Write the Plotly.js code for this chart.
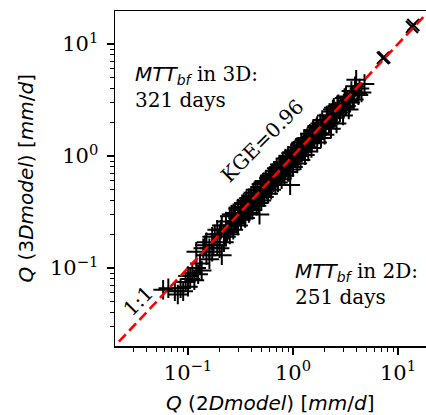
<!DOCTYPE html>
<html>
<head>
<meta charset="utf-8">
<script src="https://cdn.plot.ly/plotly-3.0.1.min.js"></script>
<style>html,body{margin:0;padding:0;background:#fff;}#chart{width:426px;height:415px;}</style>
</head>
<body>
<div id="chart"></div>
<script>
// Daily discharge, 2D model (x) vs 3D model (y), mm/d
var q2D = [
  0.058, 0.065, 0.075, 0.08, 0.085, 0.09, 0.095, 0.1, 0.105, 0.11, 0.1, 0.12, 0.115, 0.125, 0.13, 0.135,
  0.14, 0.15, 0.15, 0.16, 0.17, 0.17, 0.18, 0.19, 0.2, 0.2, 0.21, 0.22, 0.22, 0.23, 0.24, 0.25, 0.25, 0.26,
  0.27, 0.28, 0.29, 0.3, 0.3, 0.31, 0.32, 0.33, 0.34, 0.35, 0.36, 0.37, 0.38, 0.4, 0.4, 0.41, 0.42, 0.44,
  0.45, 0.46, 0.48, 0.5, 0.5, 0.52, 0.53, 0.55, 0.56, 0.58, 0.6, 0.6, 0.62, 0.64, 0.66, 0.68, 0.7, 0.7,
  0.72, 0.74, 0.76, 0.78, 0.8, 0.8, 0.83, 0.85, 0.88, 0.9, 0.9, 0.93, 0.95, 0.98, 1.0, 1.0, 1.03, 1.06,
  1.1, 1.1, 1.14, 1.18, 1.2, 1.25, 1.3, 1.3, 1.35, 1.4, 1.45, 1.5, 1.5, 1.55, 1.6, 1.7, 1.7, 1.8, 1.85,
  1.9, 2.0, 2.0, 2.1, 2.2, 2.3, 2.4, 2.5, 2.6, 2.7, 2.8, 3.0, 3.1, 3.2, 3.4, 3.6, 3.8, 4.0, 4.2, 4.5, 4.8,
  0.19, 0.23, 0.27, 0.32, 0.35, 0.38, 0.43, 0.47, 0.52, 0.57, 0.63, 0.67, 0.73, 0.79, 0.86, 0.92, 1.0,
  1.08, 1.15, 1.22, 1.33, 1.42, 1.55, 1.65, 1.75, 1.95, 2.15, 2.35, 2.55, 2.9, 3.3, 3.7, 4.3,
  0.48, 0.94, 0.21, 0.12, 0.16,
  0.26, 0.29, 0.34, 0.39, 0.44, 0.51, 0.59, 0.65, 0.75, 0.82, 0.96, 1.12, 1.28, 1.48, 1.68, 2.05, 2.45, 3.5, 3.9,
  0.145, 0.175, 0.205, 0.235,
  0.3, 0.36, 0.42, 0.49, 0.55, 0.62, 0.69, 0.77, 0.87, 1.02, 1.17, 1.37, 1.58, 1.82, 2.25, 2.65, 3.05, 3.45, 4.1,
  0.28, 0.33, 0.4, 0.46, 0.54, 0.61, 0.71, 0.81, 0.91, 1.04, 1.24, 1.44, 1.62, 2.0, 2.4, 2.75, 3.2
];
var q3D = [
  0.064, 0.066, 0.062, 0.058, 0.066, 0.062, 0.075, 0.068, 0.08, 0.09, 0.085, 0.1, 0.078, 0.088, 0.11, 0.095,
  0.15, 0.13, 0.17, 0.15, 0.14, 0.19, 0.2, 0.16, 0.2, 0.15, 0.24, 0.2, 0.17, 0.26, 0.22, 0.2, 0.29, 0.24,
  0.22, 0.31, 0.26, 0.24, 0.34, 0.29, 0.27, 0.37, 0.3, 0.28, 0.4, 0.34, 0.31, 0.44, 0.36, 0.33, 0.47, 0.4,
  0.36, 0.5, 0.44, 0.4, 0.56, 0.47, 0.43, 0.6, 0.5, 0.46, 0.66, 0.55, 0.5, 0.7, 0.6, 0.55, 0.78, 0.64,
  0.58, 0.8, 0.68, 0.62, 0.88, 0.72, 0.67, 0.95, 0.8, 0.72, 1.0, 0.85, 0.76, 1.08, 0.9, 0.8, 1.12, 0.95,
  0.86, 1.2, 1.02, 0.92, 1.32, 1.12, 1.02, 1.42, 1.2, 1.1, 1.58, 1.35, 1.18, 1.7, 1.42, 1.32, 1.85, 1.6, 1.45,
  2.1, 1.78, 1.55, 2.3, 1.95, 1.75, 2.6, 2.2, 1.95, 2.9, 2.45, 2.3, 3.3, 2.8, 2.6, 3.8, 3.2, 4.8, 3.5, 3.7, 4.4,
  0.22, 0.19, 0.3, 0.35, 0.33, 0.42, 0.43, 0.38, 0.58, 0.57, 0.6, 0.74, 0.7, 0.77, 0.86, 0.92, 1.0,
  1.05, 1.15, 1.2, 1.3, 1.4, 1.5, 1.6, 1.75, 1.9, 2.1, 2.3, 2.5, 2.8, 3.1, 3.5, 4.0,
  0.3, 0.55, 0.13, 0.14, 0.12,
  0.3, 0.25, 0.38, 0.34, 0.5, 0.45, 0.64, 0.58, 0.84, 0.76, 1.06, 1.0, 1.38, 1.3, 1.8, 1.85, 2.7, 3.0, 4.2,
  0.16, 0.16, 0.22, 0.21,
  0.28, 0.39, 0.39, 0.53, 0.52, 0.67, 0.66, 0.82, 0.83, 1.1, 1.1, 1.45, 1.5, 1.95, 2.0, 2.8, 2.7, 3.2, 3.6,
  0.26, 0.31, 0.41, 0.43, 0.51, 0.63, 0.66, 0.8, 0.95, 0.98, 1.25, 1.36, 1.66, 1.9, 2.5, 2.6, 3.4
];
// High-flow days
var q2DHigh = [7.2, 7.4, 13.6, 14.0];
var q3DHigh = [7.5, 7.6, 14.2, 14.8];
// 1:1 reference line
var oneToOne = [0.022, 30];

var xTickVals = [0.1, 1, 10];
var xTickText = ['10<sup>\u22121</sup>', '10<sup>0</sup>', '10<sup>1</sup>'];
var yTickVals = [0.1, 1, 10];
var yTickText = ['10<sup>\u22121</sup>', '10<sup>0</sup>', '10<sup>1</sup>'];
var minorVals = [0.02,0.03,0.04,0.05,0.06,0.07,0.08,0.09,0.2,0.3,0.4,0.5,0.6,0.7,0.8,0.9,2,3,4,5,6,7,8,9,20];

var serif = 'DejaVu Serif, serif';
var sans = 'DejaVu Sans, sans-serif';

var traces = [
  {x: q2D, y: q3D, type: 'scatter', mode: 'markers', cliponaxis: true,
   marker: {symbol: 'cross-thin', size: 14, color: '#000', line: {color: '#000', width: 2}}},
  {x: q2DHigh, y: q3DHigh, type: 'scatter', mode: 'markers', cliponaxis: true,
   marker: {symbol: 'x-thin', size: 12, color: '#000', line: {color: '#000', width: 2}}},
  {x: oneToOne, y: oneToOne, type: 'scatter', mode: 'lines', cliponaxis: true,
   line: {color: '#ff0000', width: 2.6, dash: '10px,5px'}}
];

var axisCommon = {
  type: 'log', showgrid: false, zeroline: false, showline: true, linecolor: '#000', linewidth: 1.5,
  ticks: 'outside', ticklen: 7, tickwidth: 1.2, tickcolor: '#000', tickmode: 'array',
  tickfont: {family: serif, size: 21, color: '#000'},
  minor: {tickmode: 'array', tickvals: minorVals, ticks: 'outside', ticklen: 4, tickwidth: 1, tickcolor: '#000', showgrid: false}
};

var layout = {
  width: 426, height: 415,
  margin: {l: 115, r: 0, t: 11, b: 69},
  paper_bgcolor: '#fff', plot_bgcolor: '#fff',
  showlegend: false,
  xaxis: Object.assign({}, axisCommon, {range: [-1.695, 1.267], tickvals: xTickVals, ticktext: xTickText, mirror: true}),
  yaxis: Object.assign({}, axisCommon, {range: [-1.696, 1.295], tickvals: yTickVals, ticktext: yTickText, mirror: false, ticklabelstandoff: 4}),
  annotations: [
    {xref: 'paper', yref: 'paper', x: 0.5, y: 0, yshift: -57, xanchor: 'center', yanchor: 'middle', showarrow: false,
     text: '<i>Q</i> (2<i>Dmodel</i>) [<i>mm</i>/<i>d</i>]', font: {family: sans, size: 20, color: '#000'}},
    {xref: 'paper', yref: 'paper', x: 0, y: 0.5, xshift: -90, xanchor: 'center', yanchor: 'middle', showarrow: false, textangle: -90,
     text: '<i>Q</i> (3<i>Dmodel</i>) [<i>mm</i>/<i>d</i>]', font: {family: sans, size: 20, color: '#000'}},
    {xref: 'paper', yref: 'paper', x: (133-115)/311, y: (346-87)/335, xanchor: 'left', yanchor: 'middle', align: 'left', showarrow: false,
     text: '<span style="font-family:DejaVu Sans"><i>MTT</i><sub><i>bf</i></sub></span> in 3D:<br>321 days', font: {family: serif, size: 20, color: '#000'}},
    {xref: 'paper', yref: 'paper', x: (293-115)/311, y: (346-284)/335, xanchor: 'left', yanchor: 'middle', align: 'left', showarrow: false,
     text: '<span style="font-family:DejaVu Sans"><i>MTT</i><sub><i>bf</i></sub></span> in 2D:<br>251 days', font: {family: serif, size: 20, color: '#000'}},
    {xref: 'paper', yref: 'paper', x: (262-115)/311, y: (346-141)/335, xanchor: 'center', yanchor: 'middle', showarrow: false, textangle: -45,
     text: 'KGE=0.96', font: {family: serif, size: 20, color: '#000'}},
    {xref: 'paper', yref: 'paper', x: (138-115)/311, y: (346-301)/335, xanchor: 'center', yanchor: 'middle', showarrow: false, textangle: -45,
     text: '1:1', font: {family: serif, size: 20, color: '#000'}}
  ]
};

Plotly.newPlot('chart', traces, layout, {displayModeBar: false, staticPlot: true});
</script>
</body>
</html>
